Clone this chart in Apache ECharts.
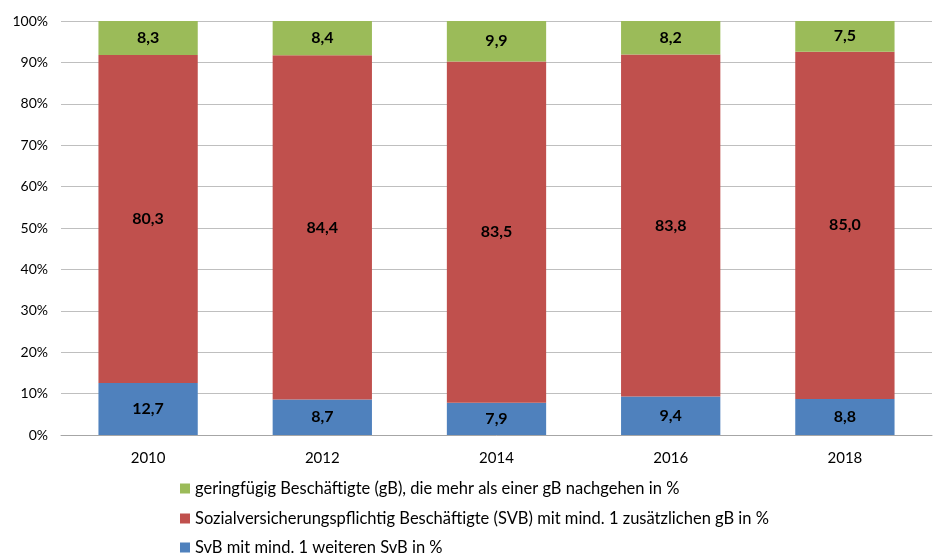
<!DOCTYPE html>
<html><head><meta charset="utf-8">
<script src="https://cdn.jsdelivr.net/npm/echarts@6/dist/echarts.min.js"></script>
<style>html,body{margin:0;padding:0;background:#fff}#c{width:947px;height:556px}</style>
</head><body><div id="c"></div>
<script>
var categories = ['2010','2012','2014','2016','2018'];
var svbSvb = [12.7, 8.7, 7.9, 9.4, 8.8];
var svbGb = [80.3, 84.4, 83.5, 83.8, 85.0];
var gbGb = [8.3, 8.4, 9.9, 8.2, 7.5];
var names = [
  'SvB mit mind. 1 weiteren SvB in %',
  'Sozialversicherungspflichtig Beschäftigte (SVB) mit mind. 1 zusätzlichen gB in %',
  'geringfügig Beschäftigte (gB), die mehr als einer gB nachgehen in %'
];
var colors = ['#4f81bd', '#c0504d', '#9bbb59'];
var raw = [svbSvb, svbGb, gbGb];
var totals = categories.map(function(_, i){ return svbSvb[i] + svbGb[i] + gbGb[i]; });
var font = 'Lato, "Open Sans", sans-serif';
var series = raw.map(function(arr, k){
  return {
    name: names[k], type: 'bar', stack: 't', barWidth: '57%',
    itemStyle: {color: colors[k]},
    data: arr.map(function(v, i){ return {value: v / totals[i] * 100, raw: v}; }),
    label: {show: true, position: 'inside', color: '#000', fontWeight: 'bold', fontSize: 16, fontFamily: font,
      formatter: function(p){ return p.data.raw.toFixed(1).replace('.', ','); }}
  };
});
var legendTops = [480, 510, 539];
var legendOrder = [2, 1, 0];
var legends = legendOrder.map(function(k, j){
  return {
    orient: 'horizontal', left: 180, top: legendTops[j], padding: 0, itemWidth: 10, itemHeight: 10, itemGap: 5,
    icon: 'rect', data: [names[k]],
    textStyle: {fontSize: 16.5, color: '#000', fontFamily: font}
  };
});
var chart = echarts.init(document.getElementById('c'));
chart.setOption({
  animation: false,
  textStyle: {fontFamily: font},
  grid: {left: 61, right: 15, top: 21, bottom: 121},
  legend: legends,
  xAxis: {type: 'category', data: categories,
    axisLine: {lineStyle: {color: '#a6a6a6'}}, axisTick: {show: false},
    axisLabel: {fontSize: 15, color: '#000', margin: 16}},
  yAxis: {type: 'value', min: 0, max: 100, interval: 10,
    axisLabel: {formatter: '{value}%', fontSize: 14, color: '#000', margin: 13},
    splitLine: {lineStyle: {color: '#bfbfbf'}}},
  series: series
});
</script></body></html>
